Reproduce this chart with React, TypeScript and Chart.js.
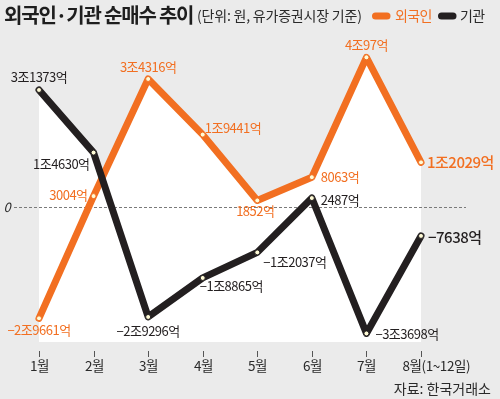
import React, { useEffect, useRef } from 'react';
import { Chart, registerables } from 'chart.js';

Chart.register(...registerables);

// ---- data ----
const MONTHS = ['1월', '2월', '3월', '4월', '5월', '6월', '7월', '8월'];
const LAST_MONTH_NOTE = '(1~12일)';
const SERIES_NAMES = ['외국인', '기관'];
// 억원
const FOREIGN = [-29661, 3004, 34316, 19441, 1852, 8063, 40097, 12029];
const INSTITUTION = [31373, 14630, -29296, -18865, -12037, 2487, -33698, -7638];
const ZERO_TICK = 0;

const TITLE = '외국인·기관 순매수 추이';
const SUBTITLE = '(단위: 원, 유가증권시장 기준)';
const SOURCE = '자료: 한국거래소';

// ---- style ----
const Y_MIN = -40000;
const Y_MAX = 45000;
const FILL_FLOOR = -36000;
const BG = '#ebebeb';
const ORANGE = '#f26f21';
const BLACK = '#231f20';
const DOT = '#fffbd6';
const TEXT = '#2a2a2a';
const FONT = '"Noto Sans CJK KR", "Noto Sans", sans-serif';

// label placement [dx, dy, align, big]
type LP = [number, number, CanvasTextAlign, boolean];
const FOREIGN_LABEL_LAYOUT: LP[] = [
  [0, 12, 'center', false],
  [-6, -1, 'right', false],
  [0, -12, 'center', false],
  [2, -7, 'left', false],
  [-2, 11, 'center', false],
  [9, 0, 'left', false],
  [0, -12, 'center', false],
  [6, 0, 'left', true],
];
const INST_LABEL_LAYOUT: LP[] = [
  [0, -13, 'center', false],
  [-4, 11, 'right', false],
  [0, 14, 'center', false],
  [-3, 8, 'left', false],
  [6, 10, 'left', false],
  [9, 2, 'left', false],
  [9, 1, 'left', false],
  [7, 1, 'left', true],
];

function fmt(v: number): string {
  const a = Math.abs(v);
  const jo = Math.floor(a / 10000);
  const eok = a % 10000;
  const s = jo > 0 ? `${jo}조${eok}억` : `${eok}억`;
  return (v < 0 ? '−' : '') + s;
}

function setSpacing(ctx: any, px: number) {
  try {
    ctx.letterSpacing = `${px}px`;
  } catch (e) {}
}

const decor = {
  id: 'decor',
  beforeDraw(chart: any) {
    const { ctx, width, height } = chart;
    ctx.save();
    ctx.fillStyle = BG;
    ctx.fillRect(0, 0, width, height);
    ctx.restore();
  },
  beforeDatasetsDraw(chart: any) {
    const { ctx, chartArea } = chart;
    const xs = chart.scales.x;
    const ys = chart.scales.y;
    const n = MONTHS.length;
    // white envelope below the upper line
    const env: [number, number][] = [];
    for (let i = 0; i < n; i++) {
      const xi = xs.getPixelForValue(i);
      env.push([xi, ys.getPixelForValue(Math.max(FOREIGN[i], INSTITUTION[i]))]);
      if (i < n - 1) {
        const d0 = FOREIGN[i] - INSTITUTION[i];
        const d1 = FOREIGN[i + 1] - INSTITUTION[i + 1];
        if (d0 * d1 < 0) {
          const t = d0 / (d0 - d1);
          const xn = xs.getPixelForValue(i + 1);
          const v = FOREIGN[i] + t * (FOREIGN[i + 1] - FOREIGN[i]);
          env.push([xi + t * (xn - xi), ys.getPixelForValue(v)]);
        }
      }
    }
    const floor = ys.getPixelForValue(FILL_FLOOR);
    ctx.save();
    ctx.beginPath();
    ctx.moveTo(env[0][0], floor);
    env.forEach(([x, y]) => ctx.lineTo(x, y));
    ctx.lineTo(env[env.length - 1][0], floor);
    ctx.closePath();
    ctx.fillStyle = '#ffffff';
    ctx.fill();

    // zero dashed line
    const y0 = Math.round(ys.getPixelForValue(ZERO_TICK)) + 0.5;
    ctx.beginPath();
    ctx.setLineDash([3, 2]);
    ctx.strokeStyle = '#7a7a7a';
    ctx.lineWidth = 1;
    ctx.moveTo(14, y0);
    ctx.lineTo(466, y0);
    ctx.stroke();
    ctx.setLineDash([]);
    ctx.font = `italic 13px ${FONT}`;
    ctx.fillStyle = TEXT;
    ctx.textAlign = 'center';
    ctx.textBaseline = 'middle';
    ctx.fillText(String(ZERO_TICK), 7, y0);

    // x ticks and labels
    const bottom = chartArea.bottom;
    ctx.strokeStyle = '#555';
    ctx.lineWidth = 1;
    ctx.font = `13.5px ${FONT}`;
    setSpacing(ctx, -0.4);
    for (let i = 0; i < n; i++) {
      const px = Math.round(xs.getPixelForValue(i)) + 0.5;
      ctx.beginPath();
      ctx.moveTo(px, bottom - 6);
      ctx.lineTo(px, bottom);
      ctx.stroke();
      ctx.fillStyle = TEXT;
      if (i === n - 1) {
        ctx.textAlign = 'right';
        ctx.fillText(MONTHS[i], px, bottom + 9);
        ctx.textAlign = 'left';
        ctx.fillText(LAST_MONTH_NOTE, px, bottom + 9);
      } else {
        ctx.textAlign = 'center';
        ctx.fillText(MONTHS[i], px, bottom + 9);
      }
    }
    ctx.restore();
  },
  afterDatasetsDraw(chart: any) {
    const { ctx } = chart;
    ctx.save();
    ctx.textBaseline = 'middle';
    const series: [number[], LP[], string, number][] = [
      [FOREIGN, FOREIGN_LABEL_LAYOUT, ORANGE, 0],
      [INSTITUTION, INST_LABEL_LAYOUT, BLACK, 1],
    ];
    series.forEach(([vals, layout, color, di]) => {
      const meta = chart.getDatasetMeta(di);
      vals.forEach((v, i) => {
        const p = meta.data[i];
        const [dx, dy, align, big] = layout[i];
        ctx.font = big ? `500 15px ${FONT}` : `13px ${FONT}`;
        setSpacing(ctx, -0.5);
        ctx.fillStyle = color;
        ctx.textAlign = align;
        ctx.fillText(fmt(v), p.x + dx, p.y + dy);
      });
    });

    // title
    ctx.textAlign = 'left';
    ctx.fillStyle = '#1e1e1e';
    ctx.font = `bold 20px ${FONT}`;
    setSpacing(ctx, -1.2);
    ctx.fillText(TITLE, 4, 15);
    ctx.font = `14px ${FONT}`;
    setSpacing(ctx, -0.2);
    ctx.fillStyle = TEXT;
    ctx.fillText(SUBTITLE, 197, 16);

    // legend
    const legend: [string, string, number, number][] = [
      [SERIES_NAMES[0], ORANGE, 372, 395],
      [SERIES_NAMES[1], BLACK, 438, 460],
    ];
    legend.forEach(([name, color, lx, tx]) => {
      ctx.beginPath();
      ctx.strokeStyle = color;
      ctx.lineWidth = 7;
      ctx.lineCap = 'round';
      ctx.moveTo(lx + 3.5, 16);
      ctx.lineTo(lx + 15, 16);
      ctx.stroke();
      ctx.fillStyle = color === ORANGE ? ORANGE : TEXT;
      ctx.font = `14px ${FONT}`;
      setSpacing(ctx, -0.6);
      ctx.fillText(name, tx, 16);
    });

    // source
    ctx.textAlign = 'right';
    ctx.fillStyle = TEXT;
    ctx.font = `14px ${FONT}`;
    setSpacing(ctx, 0);
    ctx.fillText(SOURCE, 491, 389);
    ctx.restore();
  },
};

export default function App() {
  const ref = useRef<HTMLCanvasElement | null>(null);
  useEffect(() => {
    document.body.style.margin = '0';
    const canvas = ref.current;
    if (!canvas) return;
    const common = {
      borderWidth: 7,
      pointRadius: 2.5,
      pointBorderWidth: 1,
      pointBackgroundColor: DOT,
      borderCapStyle: 'round' as const,
      borderJoinStyle: 'round' as const,
      tension: 0,
      fill: false,
      clip: false as const,
    };
    const chart = new Chart(canvas, {
      type: 'line',
      data: {
        labels: MONTHS,
        datasets: [
          { ...common, label: SERIES_NAMES[0], data: FOREIGN, borderColor: ORANGE, pointBorderColor: ORANGE, order: 2 },
          { ...common, label: SERIES_NAMES[1], data: INSTITUTION, borderColor: BLACK, pointBorderColor: BLACK, order: 1 },
        ],
      },
      options: {
        responsive: false,
        animation: false,
        events: [],
        layout: { padding: { left: 39, right: 79, top: 39, bottom: 42 } },
        plugins: { legend: { display: false }, tooltip: { enabled: false } },
        scales: {
          x: { display: false, offset: false },
          y: { display: false, min: Y_MIN, max: Y_MAX },
        },
      },
      plugins: [decor],
    });
    return () => chart.destroy();
  }, []);
  return (
    <div style={{ width: 500, height: 399 }}>
      <canvas ref={ref} width={500} height={399} style={{ display: 'block', width: 500, height: 399 }} />
    </div>
  );
}
